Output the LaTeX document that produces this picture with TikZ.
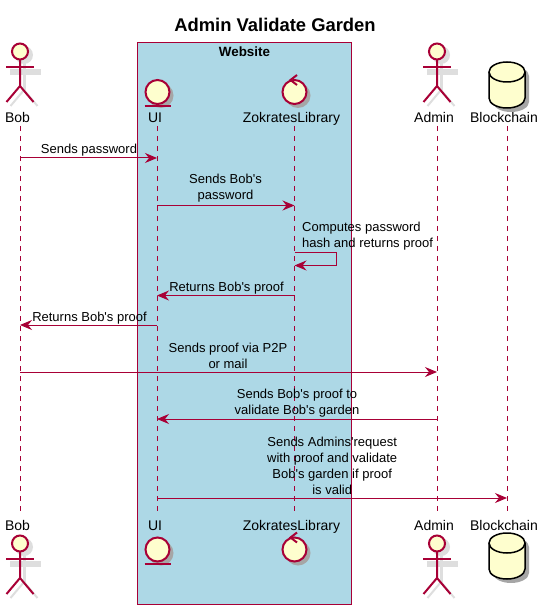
\documentclass[tikz,border=0pt]{standalone}
\usepackage{fontspec}
\defaultfontfeatures[\rmfamily]{}
\setmainfont{Liberation Sans}
\usetikzlibrary{calc}
\usetikzlibrary{arrows.meta}
\definecolor{umlred}{HTML}{A80036}
\definecolor{umlfill}{HTML}{FEFECE}
\definecolor{umlshadow}{HTML}{DEDEDE}
\definecolor{umlblue}{HTML}{ADD8E6}
\tikzset{
  lifeline/.style={umlred, line width=1pt, dash pattern=on 5pt off 5pt},
  msg/.style={umlred, line width=1pt, -{Stealth[length=12pt, width=10pt, inset=4pt]}},
  msgtext/.style={inner sep=0pt, align=center, font=\fontsize{13}{16}\selectfont},
  parttext/.style={inner sep=0pt, anchor=base, font=\fontsize{14}{16}\selectfont},
  umlline/.style={umlred, line width=2pt},
}
% figures, given by a point on their axis
\newcommand{\actorfig}[1]{
  \draw[umlshadow, line width=3pt] ($(#1)+(4,-16)$) -- ++(0,-31);
  \draw[umlshadow, line width=6pt] ($(#1)+(-10,-29)$) -- ++(31,0);
  \draw[umlshadow, line width=2pt] ($(#1)+(4,-47)$) -- ++(-13.5,-16) ($(#1)+(4,-47)$) -- ++(13.5,-16);
  \fill[umlshadow] ($(#1)+(4,-12)$) circle (9);
  \draw[umlline, fill=umlfill] ($(#1)+(0,-8.5)$) circle (8);
  \draw[umlline] ($(#1)+(0,-17)$) -- ++(0,-26) -- ++(-13.5,-16) ($(#1)+(0,-43)$) -- ++(13.5,-16);
  \draw[umlline] ($(#1)+(-14,-24)$) -- ++(28,0);
}
\newcommand{\entityfig}[1]{
  \fill[black!35] ($(#1)+(3.5,-3.5)$) circle (12.5);
  \draw[umlline, fill=umlfill] (#1) circle (12);
  \draw[umlline] ($(#1)+(-13,-14)$) -- ++(26,0);
}
\newcommand{\controlfig}[1]{
  \fill[black!35] ($(#1)+(3.5,-3.5)$) circle (12.5);
  \draw[umlline, fill=umlfill] (#1) circle (12);
  \draw[umlline] ($(#1)+(2.5,17)$) -- ++(-6.5,-5) -- ++(6.5,-5);
}
\newcommand{\dbfig}[1]{
  \fill[black!35] ($(#1)+(-14,-4)$) arc (180:0:18 and 10) -- ++(0,-26) arc (0:-180:18 and 10) -- cycle;
  \draw[black, line width=1.5pt, fill=umlfill] ($(#1)+(-18,0)$) arc (180:0:18 and 10) -- ++(0,-26) arc (0:-180:18 and 10) -- cycle;
  \draw[black, line width=1.5pt] ($(#1)+(-18,0)$) arc (180:360:18 and 10);
}
\begin{document}
\begin{tikzpicture}[x=1pt, y=1pt]
\useasboundingbox (0,0) rectangle (544,-609);

\node[font=\fontsize{18.4}{20}\selectfont\bfseries, inner sep=0pt] (title) at (275,-25) {Admin Validate Garden};

\draw[umlred, line width=1pt, fill=umlblue] (137.5,-42.5) rectangle (351.5,-604.5);
\node[font=\fontsize{13.4}{16}\selectfont\bfseries, inner sep=0pt, anchor=base] (website) at (244.5,-56.5) {Website};

% participants
\node[parttext] (bobtop) at (17.5,-123) {Bob};
\node[parttext] (uitop) at (155,-123) {UI};
\node[parttext] (zoktop) at (291.5,-123) {ZokratesLibrary};
\node[parttext] (admintop) at (434,-123) {Admin};
\node[parttext] (chaintop) at (504,-123) {Blockchain};
\node[parttext] (bobbot) at (17.5,-530) {Bob};
\node[parttext] (uibot) at (155,-530) {UI};
\node[parttext] (zokbot) at (291.5,-530) {ZokratesLibrary};
\node[parttext] (adminbot) at (434,-530) {Admin};
\node[parttext] (chainbot) at (504,-530) {Blockchain};

\coordinate (bobhi) at (20,-126);
\coordinate (uihi) at (157,-126);
\coordinate (zokhi) at (294.5,-126);
\coordinate (adminhi) at (437,-126);
\coordinate (chainhi) at (507,-126);
\coordinate (lowend) at (0,-512);

\draw[lifeline] (bobhi) -- (bobhi |- lowend);
\draw[lifeline] (uihi) -- (uihi |- lowend);
\draw[lifeline] (zokhi) -- (zokhi |- lowend);
\draw[lifeline] (adminhi) -- (adminhi |- lowend);
\draw[lifeline] (chainhi) -- (chainhi |- lowend);

\actorfig{20,-43}
\actorfig{437,-43}
\actorfig{20,-535}
\actorfig{437,-535}
\entityfig{157.5,-92}
\entityfig{157.5,-549.5}
\controlfig{294.5,-92}
\controlfig{294.5,-549.5}
\dbfig{507,-72}
\dbfig{507,-543}

% messages
\coordinate (m1) at (0,-158);
\draw[msg] (bobhi |- m1) -- (uihi |- m1);
\node[msgtext, anchor=base] (t1) at (89,-154) {Sends password};

\coordinate (m2) at (0,-205.5);
\draw[msg] (uihi |- m2) -- (zokhi |- m2);
\node[msgtext] (t2) at (225.5,-188) {Sends Bob's\\password};

\coordinate (m3) at (0,-252.5);
\draw[msg] (zokhi |- m3) --++(41.5,0) --++(0,-13) --++(-41.5,0);
\node[msgtext, anchor=west, align=left] (t3) at (302,-236) {Computes password\\hash and returns proof};

\coordinate (m4) at (0,-295.5);
\draw[msg] (zokhi |- m4) -- (uihi |- m4);
\node[msgtext, anchor=base] (t4) at (226.5,-291) {Returns Bob's proof};

\coordinate (m5) at (0,-325);
\draw[msg] (uihi |- m5) -- (bobhi |- m5);
\node[msgtext, anchor=base] (t5) at (89.5,-321) {Returns Bob's proof};

\coordinate (m6) at (0,-372);
\draw[msg] (bobhi |- m6) -- (adminhi |- m6);
\node[msgtext] (t6) at (228,-356) {Sends proof via P2P\\or mail};

\coordinate (m7) at (0,-419);
\draw[msg] (adminhi |- m7) -- (uihi |- m7);
\node[msgtext] (t7) at (297,-403) {Sends Bob's proof to\\validate Bob's garden};

\coordinate (m8) at (0,-498);
\draw[msg] (uihi |- m8) -- (chainhi |- m8);
\node[msgtext] (t8) at (332.2,-465.5) {Sends Admins'request\\with proof and validate\\Bob's garden if proof\\is valid};
\end{tikzpicture}
\end{document}
